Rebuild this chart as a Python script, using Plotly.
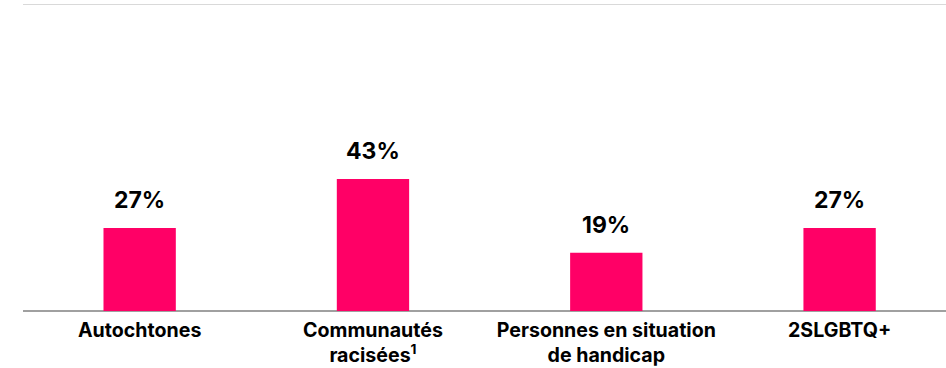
import plotly.graph_objects as go

categories = ["Autochtones", "Communautés<br>racisées<sup>1</sup>", "Personnes en situation<br>de handicap", "2SLGBTQ+"]
values = [27, 43, 19, 27]
value_labels = ["27%", "43%", "19%", "27%"]

BAR = "#FF0066"
FONT = "Inter, Liberation Sans, Arial, sans-serif"

fig = go.Figure()
fig.add_trace(go.Bar(
    x=list(range(len(categories))), y=values,
    marker=dict(color=BAR, line=dict(width=0)),
    width=0.31, hoverinfo="skip",
))

for i, (v, t) in enumerate(zip(values, value_labels)):
    fig.add_annotation(x=i, y=v, text=f"<b>{t}</b>", showarrow=False,
                       yanchor="bottom", yshift=12,
                       font=dict(family=FONT, size=23, color="#000000"))

# top light rule
fig.add_shape(type="line", xref="paper", yref="y", x0=0, x1=1, y0=100, y1=100,
              line=dict(color="#d9d9d9", width=2))

fig.update_layout(
    width=946, height=368,
    margin=dict(l=23, r=0, t=4, b=57),
    paper_bgcolor="white", plot_bgcolor="white",
    showlegend=False,
    xaxis=dict(
        range=[-0.5, 3.456],
        tickmode="array", tickvals=list(range(len(categories))),
        ticktext=[f"<b>{c}</b>" for c in categories],
        tickfont=dict(family=FONT, size=19.6, color="#000000"),
        showgrid=False, showline=False, zeroline=False,
        ticks="outside", ticklen=1, tickcolor="rgba(0,0,0,0)",
        automargin=False,
    ),
    yaxis=dict(
        range=[0, 100], showticklabels=False, showgrid=False,
        zeroline=True, zerolinecolor="#a0a0a0", zerolinewidth=1.5,
        showline=False, automargin=False,
    ),
)

fig.write_html("out.html", config={"displayModeBar": False},
               post_script="document.body.style.margin='0';document.body.style.overflow='hidden';")
